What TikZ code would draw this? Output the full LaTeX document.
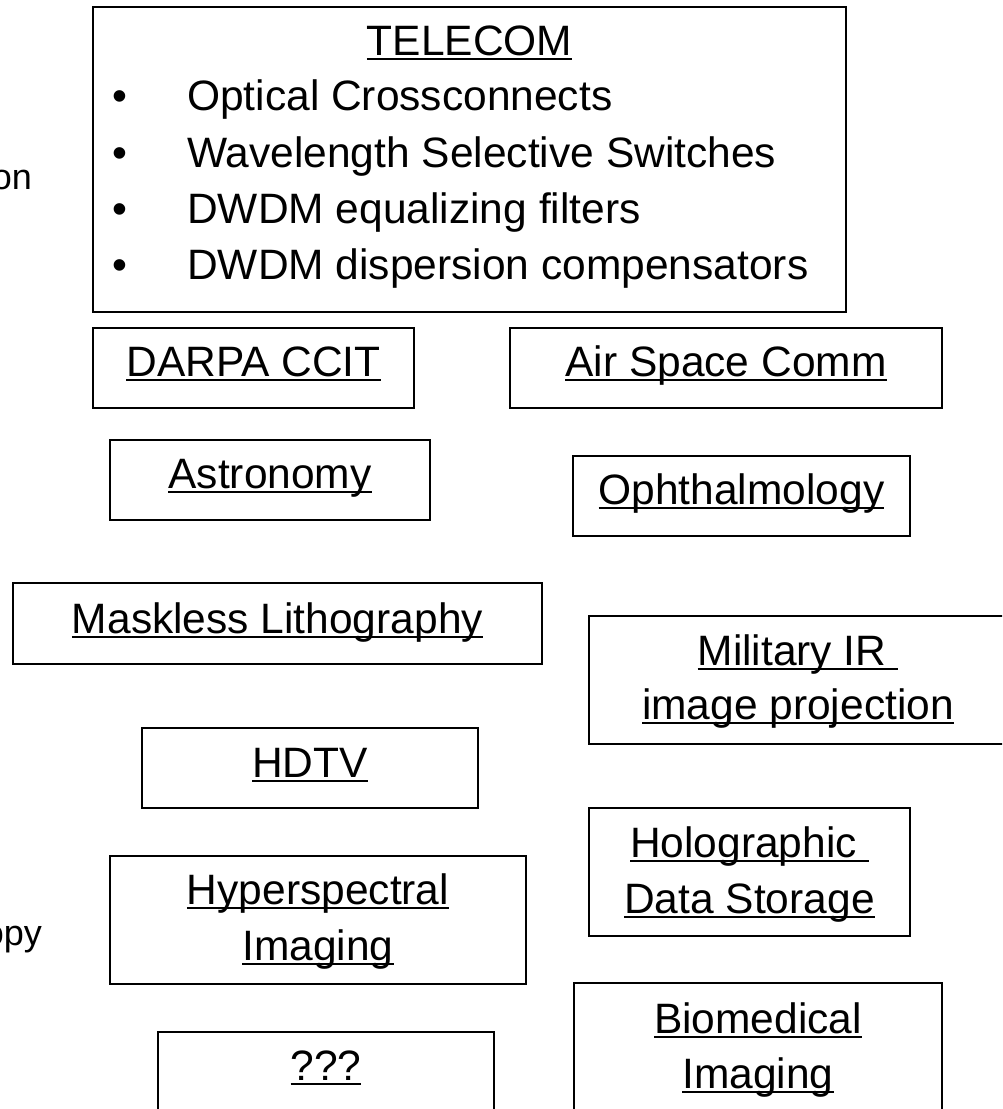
\documentclass[tikz,border=0pt]{standalone}
\usepackage{fontspec}
\setmainfont{Liberation Sans}
\newcommand\myul[1]{\setbox0\hbox{#1}\rlap{\rule[-5pt]{\wd0}{2pt}}\box0}
\begin{document}
\begin{tikzpicture}[x=1pt,y=-1pt,
  box/.style={draw=black, line width=2pt, inner sep=0pt, fill=none},
  lbl/.style={anchor=base, inner sep=0pt, font=\fontsize{42.5pt}{56pt}\selectfont},
  itm/.style={anchor=base west, inner sep=0pt, font=\fontsize{42.5pt}{56pt}\selectfont},
  frag/.style={anchor=base east, inner sep=0pt, font=\fontsize{36pt}{40pt}\selectfont}]
\useasboundingbox (0,0) rectangle (1002,1109);
\clip (0,0) rectangle (1002,1109);
\fill[white] (0,0) rectangle (1002,1109);
% boxes
\node[box, minimum width=753, minimum height=305] (telecom) at (469.5,159.5) {};
\node[box, minimum width=321, minimum height=80] (darpa) at (253.5,368) {};
\node[box, minimum width=432, minimum height=80] (air) at (726,368) {};
\node[box, minimum width=320, minimum height=80] (astro) at (270,480) {};
\node[box, minimum width=337, minimum height=80] (ophth) at (741.5,496) {};
\node[box, minimum width=529, minimum height=81] (mask) at (277.5,623.5) {};
\node[box, minimum width=418, minimum height=128] (mil) at (798,680) {};
\node[box, minimum width=336, minimum height=80] (hdtv) at (310,768) {};
\node[box, minimum width=321, minimum height=128] (holo) at (749.5,872) {};
\node[box, minimum width=416, minimum height=128] (hyper) at (318,920) {};
\node[box, minimum width=368, minimum height=128] (bio) at (758,1047) {};
\node[box, minimum width=336, minimum height=80] (qqq) at (326,1072) {};
% telecom text
\node[lbl] (tt) at (469.5,55) {\myul{TELECOM}};
\node[lbl] (b1) at (120,110) {\textbullet};
\node[lbl] (b2) at (120,167) {\textbullet};
\node[lbl] (b3) at (120,223) {\textbullet};
\node[lbl] (b4) at (120,279) {\textbullet};
\node[itm] (i1) at (187,110) {Optical Crossconnects};
\node[itm] (i2) at (187,167) {Wavelength Selective Switches};
\node[itm] (i3) at (187,223) {DWDM equalizing filters};
\node[itm] (i4) at (187,279) {DWDM dispersion compensators};
% labels
\node[lbl] (tdarpa) at (253.5,376) {\myul{DARPA CCIT}};
\node[lbl] (tair) at (726,376) {\myul{Air Space Comm}};
\node[lbl] (tastro) at (270,488) {\myul{Astronomy}};
\node[lbl] (tophth) at (741.5,504) {\myul{Ophthalmology}};
\node[lbl] (tmask) at (277.5,633) {\myul{Maskless Lithography}};
\node[lbl] (tmil1) at (798,665) {\myul{Military IR\ }};
\node[lbl] (tmil2) at (798,719) {\myul{image projection}};
\node[lbl] (thdtv) at (310,777) {\myul{HDTV}};
\node[lbl] (thyp1) at (318,904) {\myul{Hyperspectral}};
\node[lbl] (thyp2) at (318,960) {\myul{Imaging}};
\node[lbl] (tholo1) at (749.5,857) {\myul{Holographic\ }};
\node[lbl] (tholo2) at (749.5,913) {\myul{Data Storage}};
\node[lbl] (tbio1) at (758,1033) {\myul{Biomedical}};
\node[lbl] (tbio2) at (758,1088) {\myul{Imaging}};
\node[lbl] (tqqq) at (326,1080) {\myul{???}};
% cut-off fragments at left edge (as in the reference)
\node[frag] (fon) at (32,189) {on};
\node[frag] (fpy) at (42,945) {opy};
\end{tikzpicture}
\end{document}
